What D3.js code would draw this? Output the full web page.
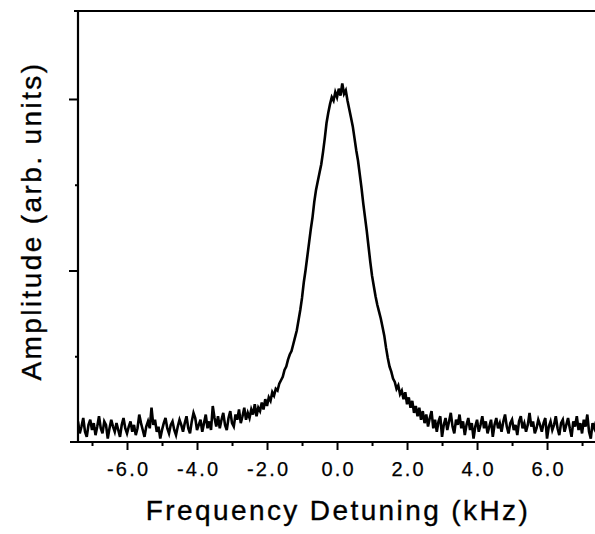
<!DOCTYPE html>
<html>
<head>
<meta charset="utf-8">
<script src="https://cdn.jsdelivr.net/npm/d3@7"></script>
<style>
  body { margin: 0; background: #fff; }
  svg { display: block; }
  text { font-family: "Liberation Sans", Arial, sans-serif; fill: #000; }
</style>
</head>
<body>
<svg id="chart" width="595" height="534"></svg>
<script>
// frequency grid of the trace (kHz)
var freqStart = -7.4;
var freqStep = 0.05;

// amplitude, one value per grid step (arb. units)
var amplitude = [
	// -7.40 .. -3.50 baseline
	0.12,0.05,0.09,0.14,0.06,0.03,0.10,0.13,0.07,0.11,
	0.04,0.09,0.15,0.08,0.05,0.12,0.10,0.02,0.08,0.13,
	0.09,0.06,0.11,0.07,0.03,0.10,0.14,0.08,0.05,0.09,
	0.12,0.06,0.10,0.04,0.08,0.16,0.11,0.07,0.03,0.09,
	0.12,0.08,0.20,0.10,0.13,0.06,0.09,0.02,0.07,0.11,
	0.14,0.08,0.05,0.10,0.12,0.07,0.04,0.09,0.13,0.10,
	0.06,0.11,0.15,0.08,0.05,0.12,0.17,0.14,0.07,0.10,
	0.13,0.06,0.11,0.16,0.08,0.12,0.07,0.21,0.14,
	// -3.45 .. -1.00 left wing
	0.09,0.15,0.08,0.13,0.17,0.10,0.07,0.14,0.18,0.11,
	0.09,0.16,0.13,0.19,0.11,0.15,0.20,0.13,0.17,0.14,
	0.19,0.16,0.22,0.15,0.20,0.18,0.23,0.19,0.25,0.21,
	0.26,0.24,0.29,0.27,0.31,0.30,0.34,0.36,0.38,0.42,
	0.44,0.48,0.51,0.53,0.57,0.61,0.65,0.71,0.77,0.84,
	// -0.95 .. 1.00 peak
	0.93,1.00,1.08,1.16,1.24,1.31,1.40,1.47,1.52,1.57,
	1.62,1.69,1.77,1.86,1.92,1.97,2.01,1.99,2.04,2.01,
	2.06,2.02,2.09,2.03,2.05,1.99,1.94,1.89,1.84,1.77,
	1.70,1.64,1.56,1.48,1.39,1.31,1.23,1.14,1.05,0.97,
	// 1.05 .. 3.50 right wing
	0.91,0.85,0.80,0.76,0.72,0.67,0.62,0.55,0.49,0.44,
	0.41,0.37,0.35,0.31,0.33,0.28,0.30,0.25,0.29,0.22,
	0.26,0.20,0.24,0.17,0.21,0.15,0.20,0.13,0.18,0.11,
	0.16,0.09,0.14,0.18,0.08,0.13,0.06,0.12,0.15,0.03,
	0.10,0.14,0.07,0.12,0.17,0.09,0.05,0.13,0.10,0.16,
	// 3.55 .. 7.40 baseline
	0.08,0.12,0.04,0.10,0.14,0.07,0.11,0.02,0.09,0.13,
	0.06,0.10,0.15,0.08,0.12,0.05,0.09,0.13,0.03,0.10,
	0.14,0.08,0.11,0.06,0.12,0.16,0.09,0.05,0.11,0.13,
	0.07,0.10,0.04,0.12,0.15,0.08,0.11,0.06,0.10,0.17,
	0.09,0.12,0.05,0.08,0.13,0.10,0.06,0.11,0.14,0.02,
	0.09,0.12,0.07,0.10,0.15,0.08,0.04,0.11,0.13,0.06,
	0.10,0.14,0.08,0.03,0.12,0.09,0.15,0.07,0.11,0.05,
	0.13,0.09,0.16,0.06,0.02,0.11,0.08,0.12
];

var xMajor = [-6, -4, -2, 0, 2, 4, 6];
var xMinor = [-7, -5, -3, -1, 1, 3, 5, 7];
var yMajor = [1, 2];
var yMinor = [0.5, 1.5];

var xTitle = "Frequency Detuning (kHz)";
var yTitle = "Amplitude (arb. units)";

var svg = d3.select("#chart");

var x = d3.scaleLinear()
	.domain([-7.4, 7.37])
	.range([78, 595]);

var y = d3.scaleLinear()
	.domain([0, 2.513])
	.range([442, 11]);

var trace = amplitude.map(function(a, i) {
	return { f: freqStart + i * freqStep, a: a };
});

svg.append("clipPath")
	.attr("id", "plotclip")
	.append("rect")
	.attr("x", x.range()[0])
	.attr("y", 0)
	.attr("width", x.range()[1] - x.range()[0])
	.attr("height", y.range()[0] + 2);

// trace
var line = d3.line()
	.x(function(d) { return x(d.f); })
	.y(function(d) { return y(d.a); });

svg.append("path")
	.datum(trace)
	.attr("clip-path", "url(#plotclip)")
	.attr("d", line)
	.attr("fill", "none")
	.attr("stroke", "#000")
	.attr("stroke-width", 2.6)
	.attr("stroke-linejoin", "miter");

// x axis
var xAxisMajor = d3.axisBottom(x)
	.tickValues(xMajor)
	.tickSize(8)
	.tickSizeOuter(0)
	.tickPadding(12)
	.tickFormat(function(d) { return d.toFixed(1); });

var gx = svg.append("g")
	.attr("transform", "translate(0," + y.range()[0] + ")")
	.call(xAxisMajor);

svg.append("g")
	.attr("transform", "translate(0," + y.range()[0] + ")")
	.call(d3.axisBottom(x).tickValues(xMinor).tickSize(4).tickSizeOuter(0).tickFormat(""));

svg.selectAll(".domain").remove();

gx.selectAll(".tick text")
	.attr("font-size", 20)
	.attr("font-family", "Liberation Sans, Arial, sans-serif")
	.attr("letter-spacing", "2.2px")
	.attr("dx", "1.1px")
	.attr("stroke", "#000")
	.attr("stroke-width", 0.25);

svg.selectAll(".tick line")
	.attr("stroke", "#000")
	.attr("stroke-width", 2);

// y axis
svg.append("g")
	.attr("transform", "translate(" + x.range()[0] + ",0)")
	.call(d3.axisLeft(y).tickValues(yMajor).tickSize(9).tickSizeOuter(0).tickFormat(""))
	.call(function(g) { g.select(".domain").remove(); })
	.selectAll(".tick line").attr("stroke", "#000").attr("stroke-width", 2);

svg.append("g")
	.attr("transform", "translate(" + x.range()[0] + ",0)")
	.call(d3.axisLeft(y).tickValues(yMinor).tickSize(3).tickSizeOuter(0).tickFormat(""))
	.call(function(g) { g.select(".domain").remove(); })
	.selectAll(".tick line").attr("stroke", "#000").attr("stroke-width", 2);

// frame lines: bottom, left, top
svg.append("line")
	.attr("x1", x.range()[0] - 8).attr("x2", x.range()[1])
	.attr("y1", y.range()[0]).attr("y2", y.range()[0])
	.attr("stroke", "#000").attr("stroke-width", 2);

svg.append("line")
	.attr("x1", x.range()[0]).attr("x2", x.range()[0])
	.attr("y1", y.range()[1]).attr("y2", y.range()[0])
	.attr("stroke", "#000").attr("stroke-width", 2.2);

svg.append("line")
	.attr("x1", x.range()[0] - 4).attr("x2", x.range()[1])
	.attr("y1", y.range()[1]).attr("y2", y.range()[1])
	.attr("stroke", "#000").attr("stroke-width", 2);

// titles
svg.append("text")
	.attr("x", 338)
	.attr("y", 520)
	.attr("text-anchor", "middle")
	.attr("font-size", 28)
	.attr("letter-spacing", "2.4px")
	.attr("stroke", "#000")
	.attr("stroke-width", 0.35)
	.text(xTitle);

svg.append("text")
	.attr("transform", "translate(41,221) rotate(-90)")
	.attr("text-anchor", "middle")
	.attr("font-size", 28)
	.attr("letter-spacing", "2.4px")
	.attr("stroke", "#000")
	.attr("stroke-width", 0.35)
	.text(yTitle);
</script>
</body>
</html>
